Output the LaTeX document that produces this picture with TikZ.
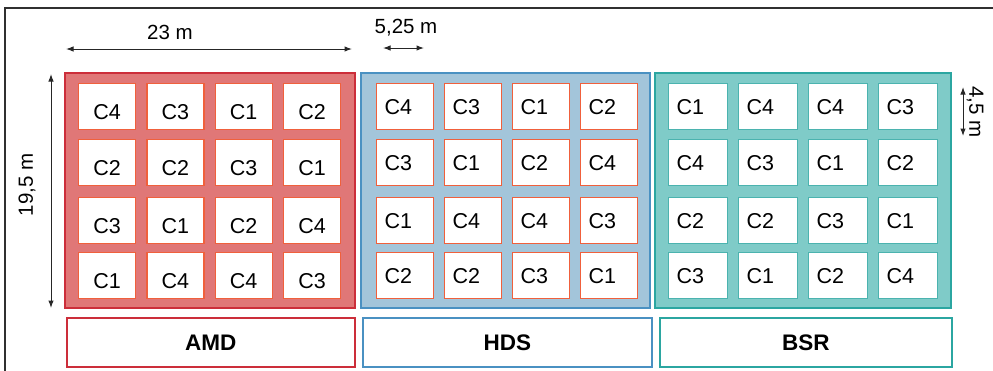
\documentclass[tikz,border=0pt]{standalone}
\usepackage{fontspec}
\setmainfont{Liberation Sans}
\usetikzlibrary{arrows.meta}

\definecolor{amdfill}{HTML}{E07777}
\definecolor{amdline}{HTML}{CC2E3A}
\definecolor{hdsfill}{HTML}{A3C5DA}
\definecolor{hdsline}{HTML}{4A91C2}
\definecolor{bsrfill}{HTML}{7FCBC8}
\definecolor{bsrline}{HTML}{2BA6A1}
\definecolor{plotline}{HTML}{F0603C}
\definecolor{framegray}{HTML}{303030}

\begin{document}
\begin{tikzpicture}[x=1pt,y=-1pt,
  cellfont/.style={font=\fontsize{21.5}{24}\selectfont},
  block/.style={line width=2pt},
  plotcell/.style={cellfont, draw, line width=1.2pt, fill=white, anchor=north west,
    minimum height=46pt, inner sep=0pt, text depth=0pt},
  centredcell/.style={plotcell, minimum width=57pt, text height=25.5pt},
  leftcell/.style={plotcell, text width=#1, align=left, inner xsep=8pt, text height=15.4pt},
  treatbox/.style={draw, line width=1.6pt, fill=white, anchor=north west,
    minimum height=49pt, font=\fontsize{22.5}{26}\selectfont\bfseries},
  dimline/.style={line width=1pt, black!85, {Latex[length=7.5pt,width=5.5pt]}-{Latex[length=7.5pt,width=5.5pt]}},
  dimtext/.style={font=\fontsize{20.5}{24}\selectfont, inner sep=0pt}
]
\useasboundingbox (0,0) rectangle (993,370);

% page frame
\draw[framegray, line width=1.4pt] (5,372) -- (5,8) -- (995,8);

% the three treatment blocks
\draw[block, draw=amdline, fill=amdfill] (65,73) rectangle (355,308);
\draw[block, draw=hdsline, fill=hdsfill] (361,73) rectangle (650,308);
\draw[block, draw=bsrline, fill=bsrfill] (655,73) rectangle (951,308);

% AMD plots
\foreach \r/\y/\labels in {1/83/{C4,C3,C1,C2}, 2/139/{C2,C2,C3,C1},
                            3/197/{C3,C1,C2,C4}, 4/252/{C1,C4,C4,C3}}{
  \foreach \t [count=\c] in \labels {
    \node[centredcell, draw=plotline] (amd-\r-\c) at ({78+(\c-1)*68.3},\y) {\t};
  }
}
% HDS plots
\foreach \r/\y/\labels in {1/83/{C4,C3,C1,C2}, 2/139/{C3,C1,C2,C4},
                            3/197/{C1,C4,C4,C3}, 4/252/{C2,C2,C3,C1}}{
  \foreach \t [count=\c] in \labels {
    \node[leftcell=41pt, draw=plotline] (hds-\r-\c) at ({376+(\c-1)*68},\y) {\t};
  }
}
% BSR plots
\foreach \r/\y/\labels in {1/83/{C1,C4,C4,C3}, 2/139/{C4,C3,C1,C2},
                            3/197/{C2,C2,C3,C1}, 4/252/{C3,C1,C2,C4}}{
  \foreach \t [count=\c] in \labels {
    \node[leftcell=43pt, draw=bsrline!85] (bsr-\r-\c) at ({668+(\c-1)*70},\y) {\t};
  }
}

% treatment names
\node[treatbox, draw=amdline, minimum width=288pt] (amd) at (66,317) {AMD};
\node[treatbox, draw=hdsline, minimum width=289pt] (hds) at (362,317) {HDS};
\node[treatbox, draw=bsrline, minimum width=292pt] (bsr) at (659,317) {BSR};

% dimensions
\coordinate (wa) at (66,49);
\coordinate (wb) at (352,49);
\draw[dimline] (wa) -- (wb);
\node[dimtext] (wlab) at (170,32) {23 m};

\coordinate (ga) at (383,48);
\coordinate (gb) at (424,48);
\draw[dimline] (ga) -- (gb);
\node[dimtext] (glab) at (406,28) {5,25 m};

\coordinate (ha) at (51,74);
\coordinate (hb) at (51,308);
\draw[dimline] (ha) -- (hb);
\node[dimtext, rotate=90] (hlab) at (27,185) {19,5 m};

\coordinate (pa) at (963,87);
\coordinate (pb) at (963,136);
\draw[dimline] (pa) -- (pb);
\node[dimtext, rotate=-90] (plab) at (975,112) {4,5 m};
\end{tikzpicture}
\end{document}
